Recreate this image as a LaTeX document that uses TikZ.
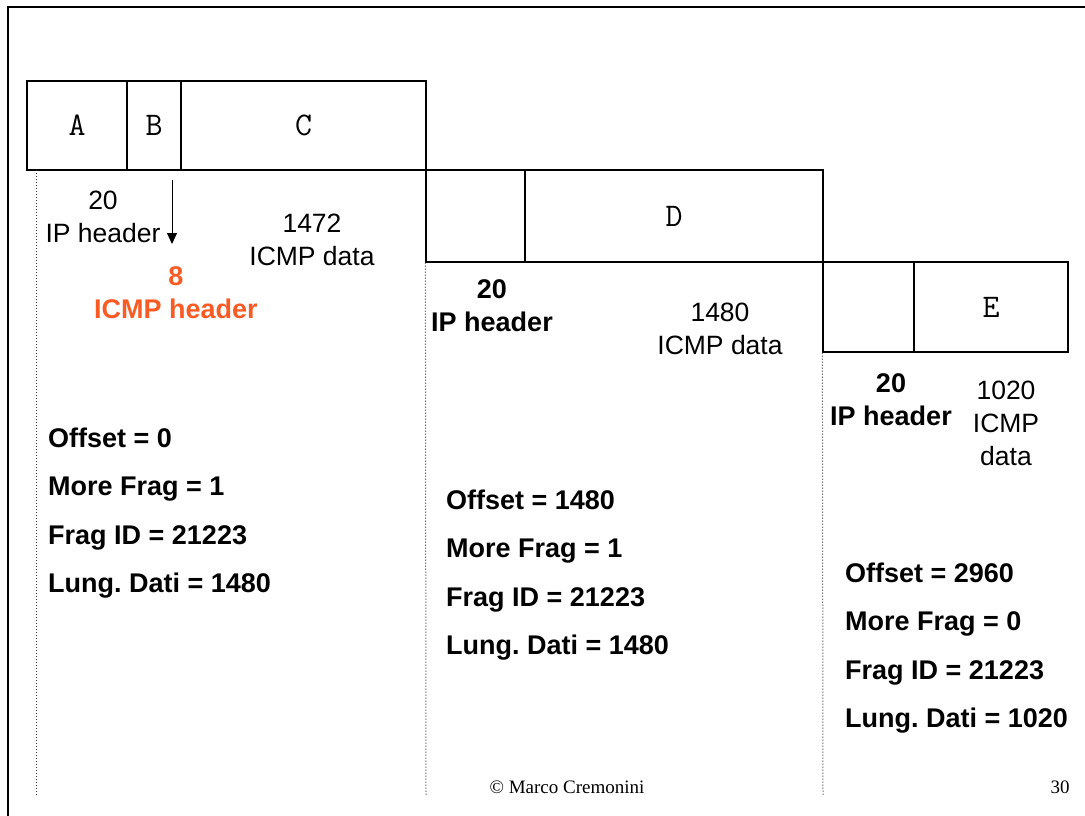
\documentclass[tikz,border=0pt]{standalone}
\usepackage{fontspec}
\setmainfont{Liberation Sans}
\newfontfamily\timesfont{Liberation Serif}
\usetikzlibrary{arrows.meta, positioning}
\definecolor{hdrorange}{RGB}{250,90,35}
\frenchspacing

\begin{document}
\begin{tikzpicture}[x=1pt, y=-1pt,
    field/.style={draw, line width=1.2pt, inner sep=0pt, font=\ttfamily\fontsize{33}{33}\selectfont},
    lbl/.style={align=center, inner sep=0pt, font=\fontsize{26.5}{33}\selectfont},
    blbl/.style={lbl, font=\bfseries\fontsize{27}{33}\selectfont},
    info/.style={align=left, anchor=west, inner sep=0pt, font=\bfseries\fontsize{27}{48.5}\selectfont},
    trail/.style={line width=1pt, gray!40!black, dash pattern=on 1pt off 2pt}]
    \useasboundingbox (0,0) rectangle (1085,816);
    \draw[line width=2pt] (8,816) -- (8,7) -- (1085,7);

    % first fragment
    \node[field, minimum width=100, minimum height=89] (a) at (77,125.5) {A};
    \node[field, minimum width=54, minimum height=89] (b) at (154,125.5) {B};
    \node[field, minimum width=245, minimum height=89] (c) at (303.5,125.5) {C};

    % second fragment
    \node[field, minimum width=99, minimum height=92] (h2) at (475.5,216) {};
    \node[field, minimum width=298, minimum height=92] (d) at (674,216) {D};

    % third fragment
    \node[field, minimum width=91, minimum height=90] (h3) at (868.5,307) {};
    \node[field, minimum width=154, minimum height=90] (e) at (991,307) {E};

    \draw[trail] (36,170) -- (36,795);
    \draw[trail] (h2.south west) -- (426,795);
    \draw[trail] (h3.south west) -- (823,795);

    \node[lbl] (iph1) at (103,217) {20\\IP header};
    \coordinate (arrtop) at (172,180);
    \coordinate (arrtip) at (172,244);
    \draw[line width=1pt, -{Triangle[width=10pt, length=11pt]}] (arrtop) -- (arrtip);
    \node[lbl] (dat1) at (312,240) {1472\\ICMP data};
    \node[blbl, text=hdrorange] (icmph) at (176,293) {8\\ICMP header};

    \node[blbl] (iph2) at (492,306) {20\\IP header};
    \node[lbl] (dat2) at (720,329) {1480\\ICMP data};

    \node[blbl] (iph3) at (891,400) {20\\IP header};
    \node[lbl] (dat3) at (1006,423) {1020\\ICMP\\data};

    \node[info] (inf1) at (48,513) {Offset = 0\\More Frag = 1\\Frag ID = 21223\\Lung. Dati = 1480};
    \node[info] (inf2) at (446,575) {Offset = 1480\\More Frag = 1\\Frag ID = 21223\\Lung. Dati = 1480};
    \node[info] (inf3) at (845,648) {Offset = 2960\\More Frag = 0\\Frag ID = 21223\\Lung. Dati = 1020};

    \node[font=\timesfont\fontsize{19}{19}\selectfont] (copy) at (567,787) {© Marco Cremonini};
    \node[font=\timesfont\fontsize{19}{19}\selectfont] (pg) at (1060,787) {30};
\end{tikzpicture}
\end{document}
